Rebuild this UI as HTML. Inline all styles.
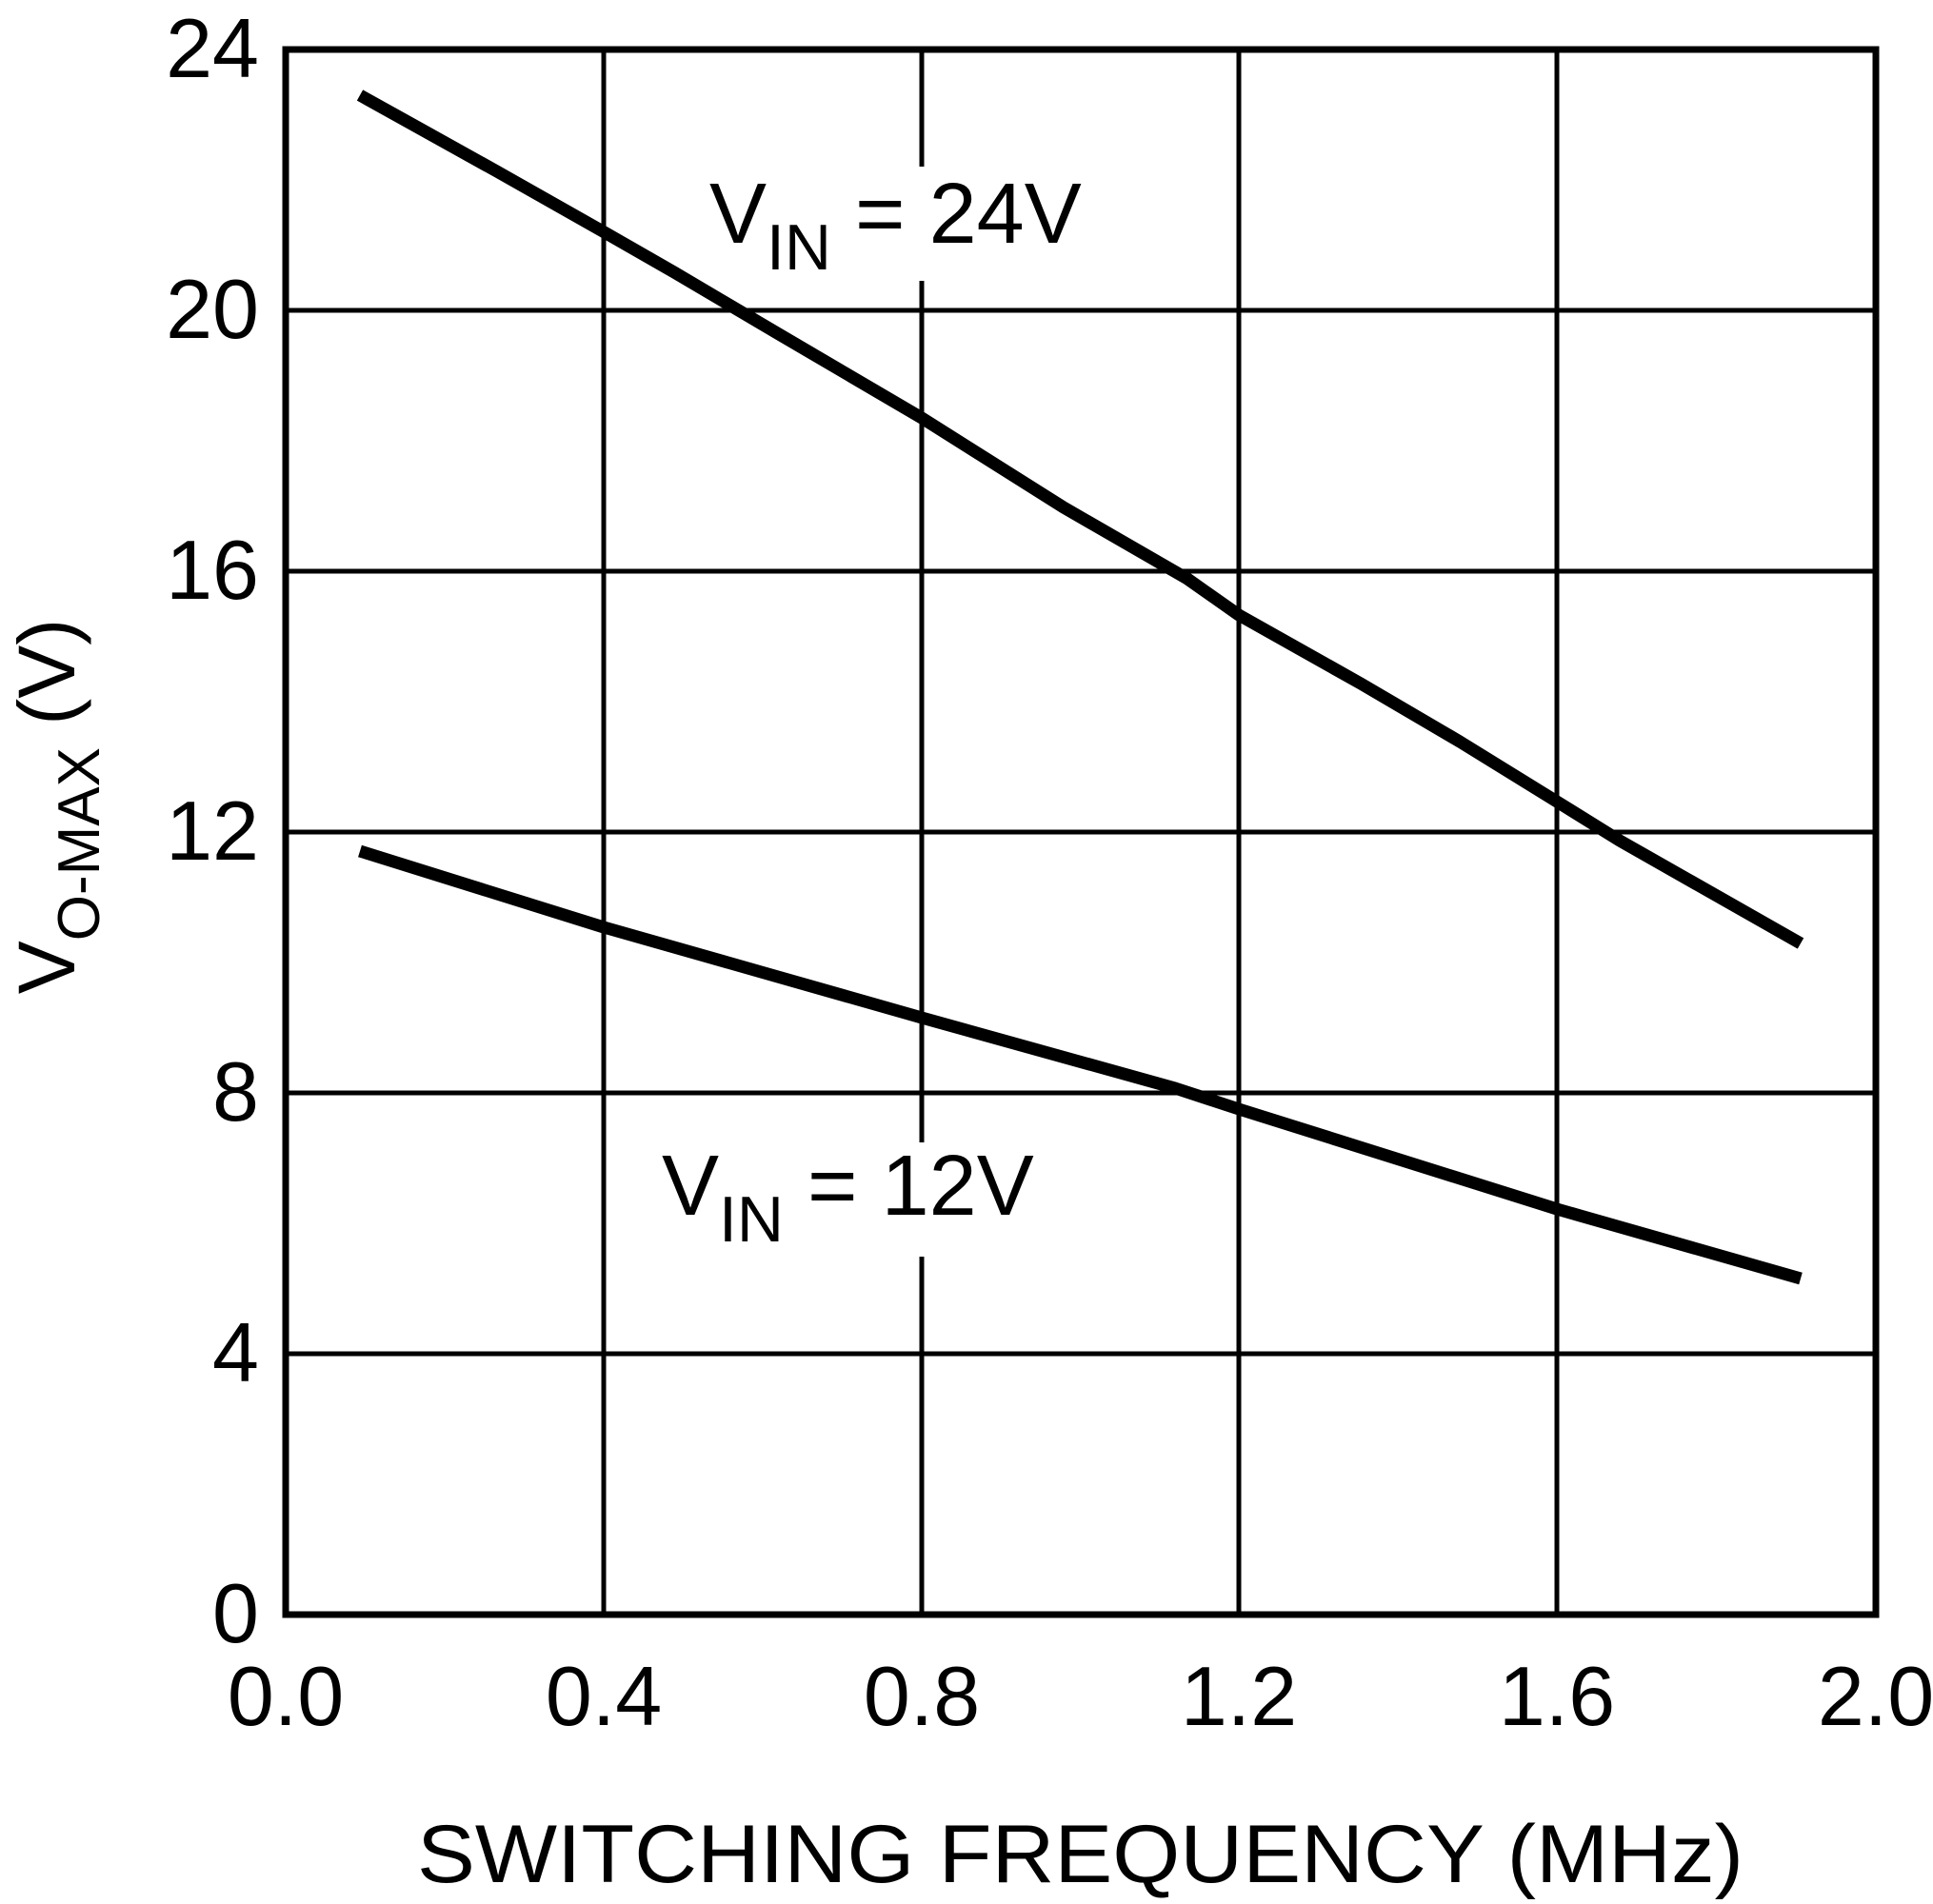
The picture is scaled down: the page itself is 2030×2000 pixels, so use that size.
<!DOCTYPE html>
<html><head><meta charset="utf-8"><style>html,body{margin:0;padding:0;background:#fff}svg{display:block}</style></head>
<body>
<svg width="2030" height="2000" viewBox="0 0 2030 2000" xmlns="http://www.w3.org/2000/svg" font-family="Liberation Sans, Arial, sans-serif">
<rect width="2030" height="2000" fill="#fff"/>
<g stroke="#000" stroke-width="5">
<line x1="634" y1="52" x2="634" y2="1696"/>
<line x1="968" y1="52" x2="968" y2="1696"/>
<line x1="1301" y1="52" x2="1301" y2="1696"/>
<line x1="1635" y1="52" x2="1635" y2="1696"/>
<line x1="300" y1="326" x2="1970" y2="326"/>
<line x1="300" y1="600" x2="1970" y2="600"/>
<line x1="300" y1="874" x2="1970" y2="874"/>
<line x1="300" y1="1148" x2="1970" y2="1148"/>
<line x1="300" y1="1422" x2="1970" y2="1422"/>
</g>
<rect x="300" y="52" width="1670" height="1644" fill="none" stroke="#000" stroke-width="7"/>
<rect x="735" y="175" width="420" height="120" fill="#fff"/>
<rect x="690" y="1200" width="420" height="120" fill="#fff"/>
<g fill="none" stroke="#000" stroke-width="13" stroke-linejoin="round">
<polyline points="378,100 520,179 633,243 708,286 818,351 968,439 1117,533 1247,608 1301,646 1429,718 1533,779 1635,842 1701,883 1891,991"/>
<polyline points="378,894 634,974 968,1069 1234,1143 1301,1165 1635,1270 1891,1343"/>
</g>
<g font-size="90" fill="#000">
<text x="745" y="255">V<tspan font-size="68" dy="28">IN</tspan><tspan dy="-28"> = 24V</tspan></text>
<text x="695" y="1276">V<tspan font-size="68" dy="28">IN</tspan><tspan dy="-28"> = 12V</tspan></text>
</g>
<g font-size="88" fill="#000" text-anchor="end">
<text x="272" y="81">24</text>
<text x="272" y="355">20</text>
<text x="272" y="629">16</text>
<text x="272" y="903">12</text>
<text x="272" y="1177">8</text>
<text x="272" y="1451">4</text>
<text x="272" y="1725">0</text>
</g>
<g font-size="88" fill="#000" text-anchor="middle">
<text x="300" y="1812">0.0</text>
<text x="634" y="1812">0.4</text>
<text x="968" y="1812">0.8</text>
<text x="1301" y="1812">1.2</text>
<text x="1635" y="1812">1.6</text>
<text x="1970" y="1812">2.0</text>
</g>
<text x="438" y="1977" font-size="86" fill="#000" textLength="1393" lengthAdjust="spacingAndGlyphs">SWITCHING FREQUENCY  (MHz)</text>
<text transform="translate(78,847) rotate(-90)" text-anchor="middle" font-size="84" fill="#000">V<tspan font-size="62" dy="26">O-MAX</tspan><tspan dy="-26"> (V)</tspan></text>
</svg>
</body></html>
